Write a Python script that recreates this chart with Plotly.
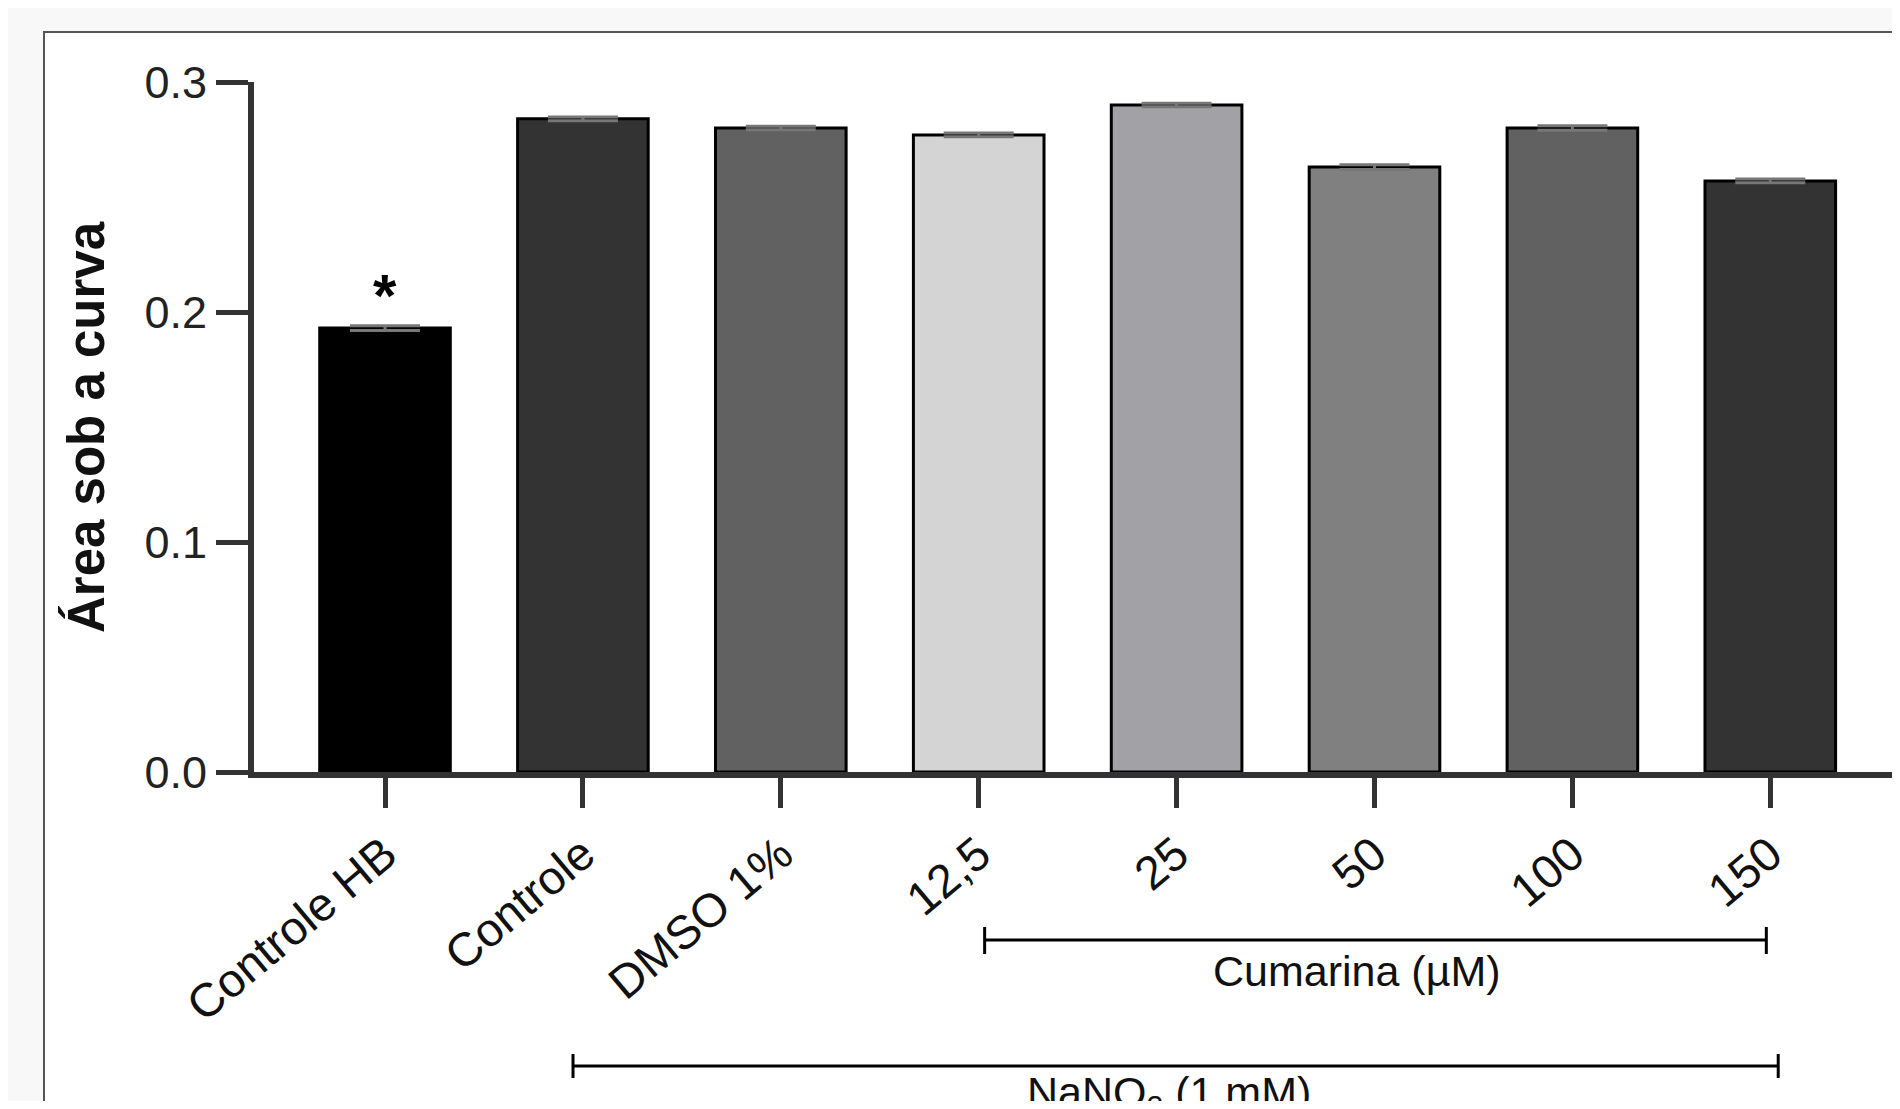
import plotly.graph_objects as go

categories = ["Controle HB", "Controle", "DMSO 1%", "12,5", "25", "50", "100", "150"]
values = [0.193, 0.284, 0.280, 0.277, 0.290, 0.263, 0.280, 0.257]
errors = [0.001, 0.0008, 0.0008, 0.0008, 0.0008, 0.001, 0.001, 0.0008]
bar_colors = ["#000000", "#333333", "#616161", "#d4d4d4", "#a2a2a6", "#808080", "#616161", "#333333"]
yticks = [0.0, 0.1, 0.2, 0.3]
ytick_text = ["0.0", "0.1", "0.2", "0.3"]

FONT = "Liberation Sans, Arial, sans-serif"

fig = go.Figure()
fig.add_trace(go.Bar(
    x=list(range(len(categories))),
    y=values,
    marker=dict(color=bar_colors, line=dict(color="#000000", width=3)),
    error_y=dict(type="data", array=errors, visible=True, color="#777777", thickness=3, width=35),
    showlegend=False,
))

W, H = 1884, 1093
ml, mt, mb = 246, 74, 329
plot_h = H - mt - mb

def py(fig_y):
    return (H - mb - fig_y) / plot_h

shapes = []
# white frame box
shapes.append(dict(type="rect", xref="paper", yref="paper", x0=(36 - ml) / (W - ml), x1=1.2,
                   y0=-0.7, y1=py(24), fillcolor="white", line=dict(color="#555555", width=2), layer="below"))
# Cumarina bracket
cy = py(932)
shapes.append(dict(type="line", xref="x", yref="paper", x0=3.03, x1=6.98, y0=cy, y1=cy, line=dict(color="black", width=3)))
for xx in (3.03, 6.98):
    shapes.append(dict(type="line", xref="x", yref="paper", x0=xx, x1=xx, y0=py(919), y1=py(946), line=dict(color="black", width=3)))
# NaNO2 bracket
ny = py(1058)
shapes.append(dict(type="line", xref="x", yref="paper", x0=0.95, x1=7.04, y0=ny, y1=ny, line=dict(color="black", width=3)))
for xx in (0.95, 7.04):
    shapes.append(dict(type="line", xref="x", yref="paper", x0=xx, x1=xx, y0=py(1046), y1=py(1070), line=dict(color="black", width=3)))

annotations = [
    dict(text="<b>Área sob a curva</b>", xref="paper", yref="paper", x=0, y=0.5, xshift=-168,
         textangle=-90, showarrow=False, font=dict(family=FONT, size=51, color="#111111"),
         xanchor="center", yanchor="middle"),
    dict(text="<b>*</b>", xref="x", yref="y", x=0, y=values[0], yshift=-3, showarrow=False,
         font=dict(family=FONT, size=60, color="black"), xanchor="center", yanchor="bottom"),
    dict(text="Cumarina (µM)", xref="x", yref="paper", x=4.91, y=py(963), showarrow=False,
         font=dict(family=FONT, size=43, color="#111111"), xanchor="center", yanchor="middle"),
    dict(text="NaNO<sub>2</sub> (1 mM)", xref="x", yref="paper", x=3.96, y=py(1058), showarrow=False,
         font=dict(family=FONT, size=43, color="#111111"), xanchor="center", yanchor="top"),
]

fig.update_layout(
    width=W, height=H,
    margin=dict(l=ml, r=0, t=mt, b=mb, pad=0),
    paper_bgcolor="#f8f8f8",
    plot_bgcolor="white",
    bargap=0.34,
    shapes=shapes,
    annotations=annotations,
    font=dict(family=FONT, color="#111111"),
)
fig.update_xaxes(
    range=[-0.662, 7.615],
    tickmode="array", tickvals=list(range(len(categories))), ticktext=categories,
    tickangle=-40, tickfont=dict(family=FONT, size=47, color="#111111"),
    ticks="outside", ticklen=30, tickwidth=5, tickcolor="#333333",
    showline=True, linecolor="#333333", linewidth=6,
    showgrid=False, zeroline=False,
)
fig.update_yaxes(
    range=[0, 0.3],
    tickmode="array", tickvals=yticks, ticktext=ytick_text,
    tickfont=dict(family=FONT, size=45, color="#222222"),
    ticks="outside", ticklen=32, tickwidth=5, tickcolor="#333333",
    showline=True, linecolor="#333333", linewidth=6,
    showgrid=False, zeroline=False,
)

fig.write_html("out.html")
